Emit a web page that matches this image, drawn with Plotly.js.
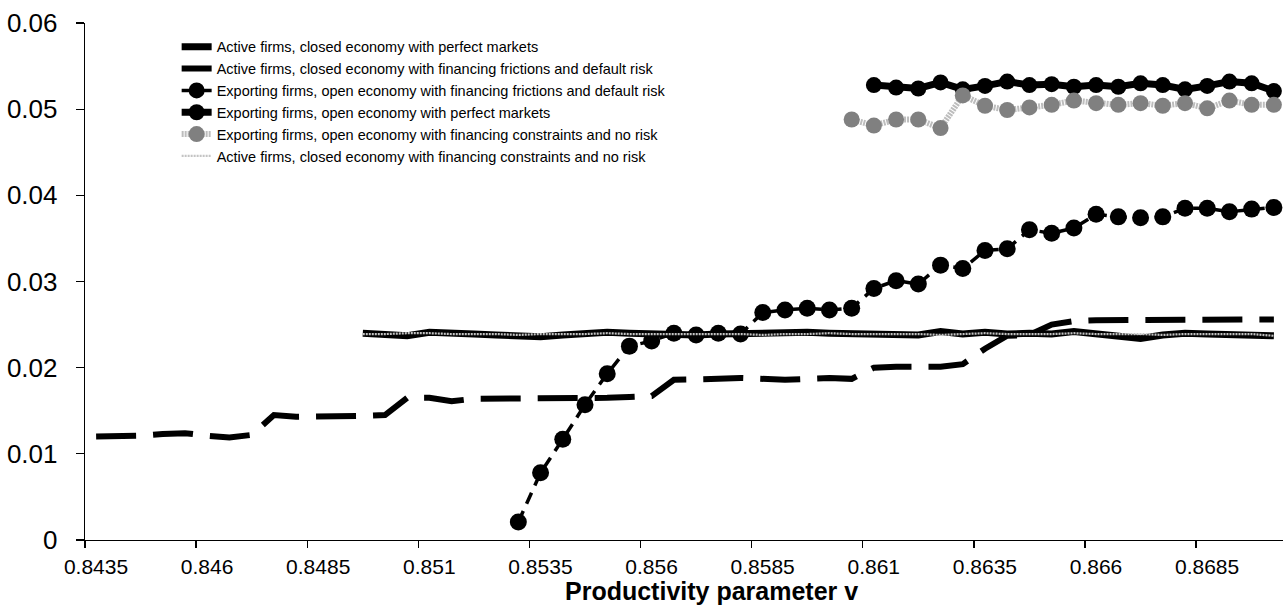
<!DOCTYPE html>
<html>
<head>
<meta charset="utf-8">
<script src="https://cdn.plot.ly/plotly-3.0.1.min.js"></script>
<style>html,body{margin:0;padding:0;background:#fff;}#chart{width:1283px;height:608px;}</style>
</head>
<body>
<div id="chart"></div>
<script>
// Category values of the productivity parameter v (one per data point)
const categories = [
  0.8435, 0.8440, 0.8445, 0.8450, 0.8455, 0.8460, 0.8465, 0.8470, 0.8475, 0.8480,
  0.8485, 0.8490, 0.8495, 0.8500, 0.8505, 0.8510, 0.8515, 0.8520, 0.8525, 0.8530,
  0.8535, 0.8540, 0.8545, 0.8550, 0.8555, 0.8560, 0.8565, 0.8570, 0.8575, 0.8580,
  0.8585, 0.8590, 0.8595, 0.8600, 0.8605, 0.8610, 0.8615, 0.8620, 0.8625, 0.8630,
  0.8635, 0.8640, 0.8645, 0.8650, 0.8655, 0.8660, 0.8665, 0.8670, 0.8675, 0.8680,
  0.8685, 0.8690, 0.8695, 0.8700
];
// Tick labels (every fifth category) and the category boundaries where tick marks sit
const tickLabels = ["0.8435","0.846","0.8485","0.851","0.8535","0.856","0.8585","0.861","0.8635","0.866","0.8685"];
const tickBoundaries = [0.84325,0.84575,0.84825,0.85075,0.85325,0.85575,0.85825,0.86075,0.86325,0.86575,0.86825];

// Series: Active firms, closed economy with perfect markets (starts at category index 12)
const activePerfectStart = 12;
const activePerfect = [
  0.0240,0.0238,0.0237,0.0241,0.0241,0.0239,0.0238,0.0236,0.0236,0.0238,
  0.0240,0.0241,0.0240,0.0239,0.0239,0.0238,0.0239,0.0240,0.0239,0.0240,
  0.0241,0.0240,0.0239,0.0240,0.0239,0.0238,0.0242,0.0239,0.0241,0.0239,
  0.0240,0.0239,0.0242,0.0240,0.0238,0.0234,0.0238,0.0240,0.0239,0.0238,
  0.0239,0.0237
];
// Series: Active firms, closed economy with financing frictions and default risk (from index 0)
const activeFrictionStart = 0;
const activeFriction = [
  0.0120,0.0120,0.0121,0.0123,0.0124,0.0121,0.0119,0.0122,0.0145,0.0143,
  0.0143,0.0144,0.0144,0.0145,0.0165,0.0165,0.0161,0.0164,0.0164,0.0164,
  0.0164,0.0164,0.0165,0.0165,0.0166,0.0167,0.0186,0.0186,0.0187,0.0188,
  0.0187,0.0186,0.0187,0.0188,0.0187,0.0200,0.0201,0.0201,0.0201,0.0204,
  0.0222,0.0237,0.0238,0.0250,0.0254,0.0255,0.0255,0.0255,0.0255,0.0255,
  0.0255,0.0255,0.0255,0.0256
];
// Series: Exporting firms, open economy with financing frictions and default risk (from index 19)
const exportFrictionStart = 19;
const exportFriction = [
  0.0021,0.0078,0.0117,0.0157,0.0193,0.0225,0.0231,0.0240,0.0238,0.0240,
  0.0239,0.0264,0.0267,0.0269,0.0267,0.0269,0.0292,0.0301,0.0297,0.0319,
  0.0315,0.0336,0.0338,0.0360,0.0356,0.0362,0.0378,0.0375,0.0374,0.0375,
  0.0385,0.0385,0.0381,0.0384,0.0386
];
// Series: Exporting firms, open economy with perfect markets (from index 35)
const exportPerfectStart = 35;
const exportPerfect = [
  0.0528,0.0525,0.0524,0.0531,0.0523,0.0527,0.0532,0.0528,0.0529,0.0526,
  0.0528,0.0526,0.0530,0.0528,0.0523,0.0527,0.0532,0.0530,0.0521
];
// Series: Exporting firms, open economy with financing constraints and no risk (from index 34)
const exportConstrStart = 34;
const exportConstr = [
  0.0488,0.0481,0.0488,0.0488,0.0478,0.0516,0.0504,0.0499,0.0502,0.0505,
  0.0510,0.0507,0.0505,0.0507,0.0504,0.0507,0.0501,0.0510,0.0505,0.0505
];
// Series: Active firms, closed economy with financing constraints and no risk (from index 12)
const activeConstrStart = 12;
const activeConstr = [
  0.0239,0.0239,0.0240,0.0240,0.0239,0.0239,0.0239,0.0238,0.0239,0.0239,
  0.0239,0.0240,0.0239,0.0239,0.0239,0.0239,0.0239,0.0239,0.0238,0.0239,
  0.0239,0.0240,0.0239,0.0239,0.0239,0.0239,0.0238,0.0239,0.0240,0.0239,
  0.0239,0.0239,0.0240,0.0239,0.0239,0.0239,0.0238,0.0239,0.0239,0.0239,
  0.0239,0.0237
];

const yTicks = [0, 0.01, 0.02, 0.03, 0.04, 0.05, 0.06];
const yTickLabels = ["0", "0.01", "0.02", "0.03", "0.04", "0.05", "0.06"];

const xs = (start, arr) => categories.slice(start, start + arr.length);
const FONT = "Liberation Sans, Arial, Helvetica, sans-serif";

const traces = [
  {
    name: "Active firms, closed economy with perfect markets",
    x: xs(activePerfectStart, activePerfect), y: activePerfect,
    mode: "lines", line: {color: "#000000", width: 7}
  },
  {
    name: "Active firms, closed economy with financing frictions and default risk",
    x: xs(activeFrictionStart, activeFriction), y: activeFriction,
    mode: "lines", line: {color: "#000000", width: 6, dash: "40px,17px"}
  },
  {
    name: "Exporting firms, open economy with financing frictions and default risk",
    x: xs(exportFrictionStart, exportFriction), y: exportFriction,
    mode: "lines+markers", line: {color: "#000000", width: 3.5, dash: "12px,8px"},
    marker: {color: "#000000", size: 17, symbol: "circle"}
  },
  {
    name: "Exporting firms, open economy with perfect markets",
    x: xs(exportPerfectStart, exportPerfect), y: exportPerfect,
    mode: "lines+markers", line: {color: "#000000", width: 7},
    marker: {color: "#000000", size: 16, symbol: "circle"}
  },
  {
    name: "Exporting firms, open economy with financing constraints and no risk",
    x: xs(exportConstrStart, exportConstr), y: exportConstr,
    mode: "lines+markers", line: {color: "#bdbdbd", width: 6, dash: "2px,1px"},
    marker: {color: "#808080", size: 16, symbol: "circle"}
  },
  {
    name: "Active firms, closed economy with financing constraints and no risk",
    x: xs(activeConstrStart, activeConstr), y: activeConstr,
    mode: "lines", line: {color: "#c4c4c4", width: 2.2, dash: "2px,1px"}
  }
];

const layout = {
  width: 1283, height: 608,
  margin: {l: 85, r: 0, t: 23, b: 68, pad: 0},
  paper_bgcolor: "#ffffff", plot_bgcolor: "#ffffff",
  font: {family: FONT, color: "#000000"},
  showlegend: true,
  legend: {
    x: 0.0765, y: 0.985, xanchor: "left", yanchor: "top",
    bgcolor: "rgba(0,0,0,0)", borderwidth: 0,
    font: {family: FONT, size: 14.5, color: "#000000"},
    traceorder: "normal", itemwidth: 30
  },
  xaxis: {
    range: [0.84325, 0.870205],
    tickmode: "array", tickvals: tickBoundaries, ticktext: tickLabels,
    ticklabelshift: 11, ticklabelstandoff: 0,
    ticks: "outside", ticklen: 7, tickwidth: 1.3, tickcolor: "#000000",
    showline: true, linecolor: "#000000", linewidth: 1.3,
    showgrid: false, zeroline: false,
    tickfont: {family: FONT, size: 21, color: "#000000"}
  },
  yaxis: {
    range: [0, 0.06],
    tickmode: "array", tickvals: yTicks, ticktext: yTickLabels,
    ticks: "outside", ticklen: 8, tickwidth: 1.3, tickcolor: "#000000",
    ticklabelstandoff: 13,
    showline: true, linecolor: "#000000", linewidth: 1.3,
    showgrid: false, zeroline: false,
    tickfont: {family: FONT, size: 26, color: "#000000"}
  },
  annotations: [{
    text: "<b>Productivity parameter v</b>",
    xref: "paper", yref: "paper", x: 0.523, y: -0.098,
    xanchor: "center", yanchor: "middle", showarrow: false,
    font: {family: FONT, size: 25, color: "#000000"}
  }]
};

Plotly.newPlot("chart", traces, layout, {displayModeBar: false, staticPlot: true});
</script>
</body>
</html>
